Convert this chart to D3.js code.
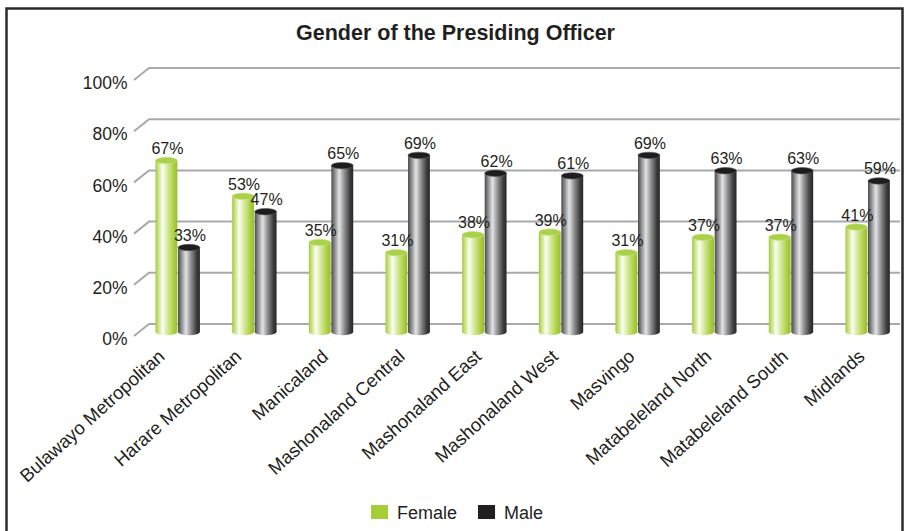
<!DOCTYPE html>
<html>
<head>
<meta charset="utf-8">
<script src="https://cdn.jsdelivr.net/npm/d3@7"></script>
<style>
  html, body { margin: 0; padding: 0; background: #fff; }
  svg { display: block; font-family: "Liberation Sans", Arial, sans-serif; }
</style>
</head>
<body>
<svg id="chart" width="905" height="531"></svg>
<script>
// Provinces shown along the category axis
const categories = [
  "Bulawayo Metropolitan", "Harare Metropolitan", "Manicaland",
  "Mashonaland Central", "Mashonaland East", "Mashonaland West",
  "Masvingo", "Matabeleland North", "Matabeleland South", "Midlands"
];
const seriesNames = ["Female", "Male"];
// Share of presiding officers (%) by gender
const femaleValues = [67, 53, 35, 31, 38, 39, 31, 37, 37, 41];
const maleValues   = [33, 47, 65, 69, 62, 61, 69, 63, 63, 59];
const yTicks = [0, 20, 40, 60, 80, 100];
const titleText = "Gender of the Presiding Officer";

const W = 905, H = 531;
const textColor = "#231f20";
const gridColor = "#a7a9ac";
const seriesColor = { Female: "#a6ce39", Male: "#231f20" };

const svg = d3.select("#chart");

// Scales
const x = d3.scaleBand().domain(categories).range([139.7, 906.3]).paddingInner(0).paddingOuter(0);
const xs = d3.scaleBand().domain(seriesNames).range([15.8, 60.2]).paddingInner(0.03);
const y = d3.scaleLinear().domain([0, 100]).range([332, 76]);

// 3D depth offsets of the back wall / front edge relative to the bar plane
const backDy = -8, frontDy = 4, backX = 149, frontX = 134, wallRight = 900;

// Gradients for the cylinders
const defs = svg.append("defs");
function cylGrad(id, stops) {
  const g = defs.append("linearGradient").attr("id", id)
    .attr("x1", "0%").attr("x2", "100%").attr("y1", "0%").attr("y2", "0%");
  stops.forEach(([o, c]) => g.append("stop").attr("offset", o).attr("stop-color", c));
}
cylGrad("gFemale", [["0%", "#a3c93a"], ["12%", "#c6e07a"], ["32%", "#fbfdf3"], ["55%", "#d5e99a"], ["85%", "#a8cd3e"], ["100%", "#98bf2f"]]);
cylGrad("gMale", [["0%", "#4a4a4a"], ["12%", "#7d7d7f"], ["36%", "#e2e3e4"], ["60%", "#8c8c8e"], ["85%", "#3d3d3d"], ["100%", "#262626"]]);
const topFill = { Female: "#aad14a", Male: "#1e1c1d" };
const topStroke = { Female: "#c9e286", Male: "#555" };

// Frame
svg.append("path")
  .attr("d", `M6.5,${H} L6.5,8.5 L902.5,8.5 L902.5,${H}`)
  .attr("fill", "none").attr("stroke", "#2b2b2b").attr("stroke-width", 2.5);

// Title
svg.append("text")
  .attr("x", 455.5).attr("y", 40)
  .attr("text-anchor", "middle")
  .attr("font-size", 21.5).attr("font-weight", "bold")
  .attr("fill", textColor)
  .text(titleText);

// Gridlines: short slanted side wall segment plus back wall line
svg.append("g").selectAll("path").data(yTicks).join("path")
  .attr("d", t => `M${frontX},${y(t) + frontDy} L${backX},${y(t) + backDy} L${wallRight},${y(t) + backDy}`)
  .attr("fill", "none").attr("stroke", gridColor).attr("stroke-width", 2);

// Y axis labels
const yAxis = d3.axisLeft(y).tickValues(yTicks).tickSize(0).tickPadding(0)
  .tickFormat(d => d + "%");
const yg = svg.append("g").attr("transform", "translate(127.5,7)").call(yAxis);
yg.select(".domain").remove();
yg.selectAll("text").attr("font-size", 17.5).attr("fill", textColor)
  .attr("font-family", "Liberation Sans, Arial, sans-serif");

// Bars as cylinders
const rows = categories.map((c, i) => ({ cat: c, Female: femaleValues[i], Male: maleValues[i] }));
const flat = [];
rows.forEach(r => seriesNames.forEach(s => flat.push({ cat: r.cat, series: s, value: r[s] })));

const bw = xs.bandwidth();
const ry = 3.2;
const bars = svg.append("g").selectAll("g").data(flat).join("g");
bars.each(function (d) {
  const g = d3.select(this);
  const x0 = x(d.cat) + xs(d.series);
  const cx = x0 + bw / 2;
  const y0 = y(0), y1 = y(d.value);
  g.append("ellipse").attr("cx", cx).attr("cy", y0).attr("rx", bw / 2).attr("ry", ry)
    .attr("fill", `url(#g${d.series})`);
  g.append("rect").attr("x", x0).attr("y", y1).attr("width", bw).attr("height", y0 - y1)
    .attr("fill", `url(#g${d.series})`);
  g.append("ellipse").attr("cx", cx).attr("cy", y1).attr("rx", bw / 2).attr("ry", ry)
    .attr("fill", topFill[d.series]).attr("stroke", topStroke[d.series]).attr("stroke-width", 0.6);
});

// Value labels
svg.append("g").selectAll("text").data(flat).join("text")
  .attr("x", d => x(d.cat) + xs(d.series) + bw / 2 + 1)
  .attr("y", d => y(d.value) - 6.5)
  .attr("text-anchor", "middle")
  .attr("font-size", 16).attr("fill", textColor)
  .text(d => d.value + "%");

// Category axis with slanted labels; the two longest left-hand labels sit a little further left
const xAxis = d3.axisBottom(x).tickSize(0).tickPadding(0);
const xg = svg.append("g").attr("transform", "translate(0,358)").call(xAxis);
xg.select(".domain").remove();
xg.selectAll("text")
  .attr("font-size", 18.5).attr("fill", textColor)
  .attr("font-family", "Liberation Sans, Arial, sans-serif")
  .attr("text-anchor", "end")
  .attr("x", 0).attr("y", 0).attr("dy", 0)
  .attr("transform", (d, i) => `translate(${i < 2 ? -12 : -2},0) rotate(-42)`);

// Legend
const legendX = { Female: 371, Male: 478 };
const lg = svg.append("g").selectAll("g").data(seriesNames).join("g")
  .attr("transform", s => `translate(${legendX[s]},505)`);
lg.append("rect").attr("width", 17).attr("height", 14).attr("fill", s => seriesColor[s]);
lg.append("text").attr("x", 26).attr("y", 14).attr("font-size", 18).attr("fill", textColor)
  .text(s => s);
</script>
</body>
</html>
